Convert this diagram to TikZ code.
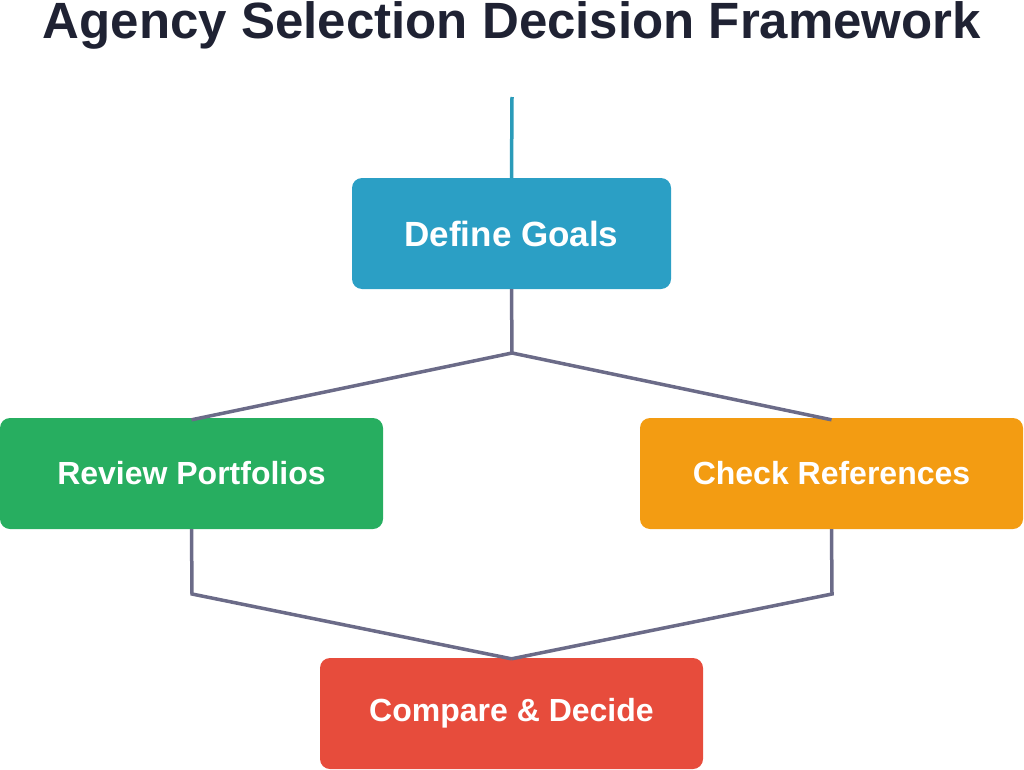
\documentclass[tikz,border=0pt]{standalone}
\usepackage{fontspec}
\setmainfont{Liberation Sans}
\usetikzlibrary{positioning}
\definecolor{TitleInk}{HTML}{1F2233}
\definecolor{GoalBlue}{HTML}{2B9FC5}
\definecolor{StemTeal}{HTML}{2A9BB9}
\definecolor{ReviewGreen}{HTML}{27AE60}
\definecolor{CheckOrange}{HTML}{F39C12}
\definecolor{DecideRed}{HTML}{E74C3C}
\definecolor{LinkGrey}{HTML}{6B6B88}

\begin{document}
\begin{tikzpicture}[
    x=1pt, y=-1pt,
    box/.style={
      rounded corners=10pt,
      inner sep=0pt,
      minimum width=383pt,
      minimum height=111pt,
      align=center,
      text=white,
      font=\fontsize{32}{36}\selectfont\bfseries
    },
    link/.style={line width=3.5pt,draw=LinkGrey,line join=miter},
    title/.style={font=\fontsize{51}{56}\selectfont\bfseries,text=TitleInk,inner sep=0pt}
  ]
    \useasboundingbox (0,0) rectangle (1024,770);
    \node[title,anchor=base] (heading) at (512,39) {Agency Selection Decision Framework};
    \node[box,fill=GoalBlue,minimum width=319pt,font=\fontsize{35}{40}\selectfont\bfseries] (goals) at (511.5,233.5) {Define Goals};
    \node[box,fill=ReviewGreen] (portfolios) at (191.5,473.5) {Review Portfolios};
    \node[box,fill=CheckOrange] (references) at (831.5,473.5) {Check References};
    \node[box,fill=DecideRed] (decide) at (511.5,713.5) {Compare \& Decide};
    \coordinate (start) at (512,97);
    \coordinate (split) at (512,353);
    \coordinate (leftdrop) at (192,594);
    \coordinate (rightdrop) at (832,594);
    \draw[line width=3.5pt,draw=StemTeal] (start) -- (goals.north);
    \draw[link] (goals.south) -- (split) -- ([yshift=-2pt]portfolios.north);
    \draw[link] (split) -- ([yshift=-2pt]references.north);
    \draw[link] (portfolios.south) -- (leftdrop) -- ([yshift=-1pt]decide.north);
    \draw[link] (references.south) -- (rightdrop) -- ([yshift=-1pt]decide.north);
  \end{tikzpicture}
\end{document}
